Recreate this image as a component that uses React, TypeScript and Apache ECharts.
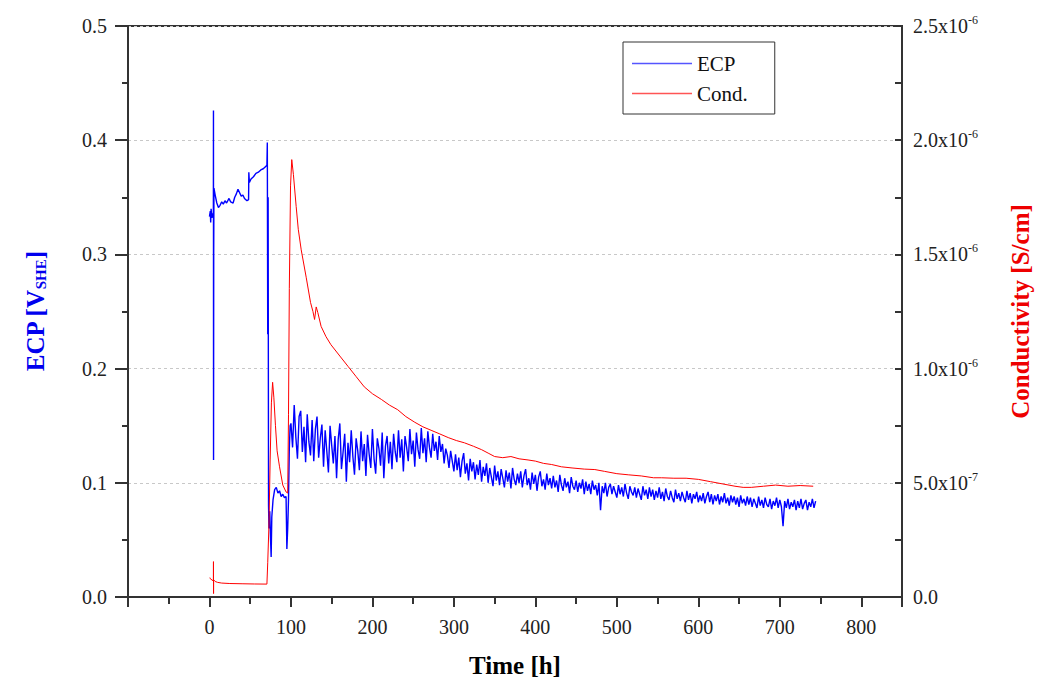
import React, { useEffect, useRef } from "react";
import * as echarts from "echarts";

const FONT = '"Liberation Serif", "Times New Roman", serif';

// ECP [V_SHE] vs time [h], irregular early part (t < 100 h)
const ecpEarly: [number, number][] = [
  [0, 0.333], [1, 0.338], [1.5, 0.328], [2, 0.34], [3, 0.332], [4, 0.336], [4.8, 0.334],
  [4.9, 0.426], [5.0, 0.12], [5.2, 0.3], [5.5, 0.358], [7, 0.352], [9, 0.345], [11, 0.341],
  [13, 0.343], [15, 0.346], [17, 0.344], [19, 0.347], [21, 0.345], [24, 0.349], [26, 0.346],
  [29, 0.345], [31, 0.35], [33, 0.353], [35, 0.357], [37, 0.354], [39, 0.351], [41, 0.352],
  [43, 0.349], [46, 0.347], [48, 0.348], [48.3, 0.372], [49, 0.363], [51, 0.366], [54, 0.368],
  [57, 0.371], [60, 0.372], [63, 0.374], [66, 0.375], [69, 0.377], [70.5, 0.378], [71, 0.398],
  [71.5, 0.23], [72, 0.35], [72.5, 0.08], [73, 0.06], [74, 0.075], [75, 0.05], [75.7, 0.035],
  [76.5, 0.07], [78, 0.085], [80, 0.094], [82, 0.096], [84, 0.091], [86, 0.093], [88, 0.088],
  [90, 0.09], [92, 0.087], [94, 0.088], [95, 0.042], [96, 0.06], [97, 0.085], [98, 0.13], [99, 0.15],
];

// ECP noisy part, sampled every 2 h from 100 h to 744 h
const ecpNoisyStart = 100;
const ecpNoisyStep = 2;
const ecpNoisy: number[] = [
  0.152, 0.131, 0.168, 0.140, 0.121, 0.158, 0.163, 0.127, 0.149, 0.118,
  0.160, 0.136, 0.124, 0.155, 0.119, 0.147, 0.158, 0.122, 0.139, 0.151, 0.114,
  0.146, 0.128, 0.109, 0.150, 0.133, 0.117, 0.141, 0.104, 0.138, 0.152,
  0.112, 0.127, 0.143, 0.101, 0.135, 0.118, 0.146, 0.123, 0.107, 0.139,
  0.128, 0.111, 0.145, 0.119, 0.134, 0.106, 0.142, 0.125, 0.113, 0.147,
  0.121, 0.108, 0.139, 0.130, 0.115, 0.144, 0.104, 0.132, 0.141, 0.117,
  0.136, 0.112, 0.143, 0.127, 0.118, 0.146, 0.122, 0.138, 0.110, 0.141,
  0.131, 0.119, 0.147, 0.125, 0.137, 0.114, 0.144, 0.129, 0.121, 0.148,
  0.126, 0.139, 0.118, 0.145, 0.131, 0.122, 0.143, 0.128, 0.136, 0.120,
  0.141, 0.127, 0.134, 0.117, 0.130, 0.124, 0.113, 0.128, 0.119, 0.110,
  0.125, 0.111, 0.122, 0.105, 0.119, 0.126, 0.108, 0.117, 0.102, 0.121,
  0.110, 0.118, 0.103, 0.116, 0.107, 0.120, 0.101, 0.114, 0.106, 0.117,
  0.100, 0.113, 0.105, 0.097, 0.115, 0.102, 0.110, 0.098, 0.112, 0.104,
  0.096, 0.111, 0.101, 0.109, 0.095, 0.113, 0.103, 0.098, 0.108, 0.100,
  0.110, 0.096, 0.106, 0.112, 0.098, 0.104, 0.094, 0.109, 0.099, 0.107,
  0.093, 0.105, 0.110, 0.097, 0.103, 0.094, 0.108, 0.098, 0.104, 0.095,
  0.106, 0.096, 0.102, 0.092, 0.107, 0.098, 0.093, 0.104, 0.096, 0.101,
  0.091, 0.105, 0.097, 0.094, 0.102, 0.092, 0.100, 0.095, 0.103, 0.090,
  0.101, 0.093, 0.099, 0.090, 0.102, 0.094, 0.098, 0.089, 0.100, 0.076,
  0.097, 0.091, 0.100, 0.088, 0.096, 0.099, 0.090, 0.097, 0.092, 0.087,
  0.098, 0.090, 0.096, 0.088, 0.099, 0.091, 0.086, 0.097, 0.092, 0.089,
  0.096, 0.087, 0.095, 0.090, 0.085, 0.097, 0.089, 0.094, 0.086, 0.096,
  0.088, 0.094, 0.085, 0.093, 0.087, 0.096, 0.086, 0.092, 0.084, 0.095,
  0.088, 0.085, 0.093, 0.087, 0.083, 0.094, 0.086, 0.091, 0.084, 0.092,
  0.087, 0.083, 0.093, 0.085, 0.091, 0.082, 0.090, 0.086, 0.092, 0.083,
  0.089, 0.084, 0.091, 0.082, 0.088, 0.092, 0.083, 0.090, 0.081, 0.089,
  0.084, 0.090, 0.081, 0.088, 0.083, 0.091, 0.082, 0.087, 0.080, 0.089,
  0.083, 0.088, 0.081, 0.087, 0.079, 0.089, 0.082, 0.086, 0.080, 0.088,
  0.081, 0.087, 0.079, 0.086, 0.082, 0.078, 0.088, 0.080, 0.085, 0.078,
  0.087, 0.081, 0.079, 0.086, 0.077, 0.084, 0.080, 0.087, 0.078, 0.085,
  0.079, 0.062, 0.084, 0.078, 0.086, 0.077, 0.083, 0.079, 0.085, 0.076,
  0.084, 0.078, 0.086, 0.077, 0.082, 0.085, 0.076, 0.083, 0.079, 0.086, 0.078, 0.084,
];

// Conductivity [S/cm] vs time [h]
const condData: [number, number][] = [
  [0.5, 8.5e-8], [1, 8.0e-8], [4.8, 7.0e-8], [4.9, 1.55e-7], [5.0, 1.5e-8], [5.1, 7.5e-8],
  [7, 6.8e-8], [10, 6.4e-8], [15, 6.1e-8], [25, 5.9e-8], [40, 5.8e-8], [55, 5.7e-8],
  [70.5, 5.65e-8], [71.5, 1.5e-7], [73, 3.15e-7], [74.5, 6.0e-7], [76, 8.5e-7], [77.5, 9.4e-7],
  [79, 8.75e-7], [81, 7.5e-7], [83, 6.4e-7], [86, 5.7e-7], [90, 4.9e-7], [94, 4.6e-7],
  [96, 4.55e-7], [97, 8.0e-7], [98, 1.35e-6], [99.5, 1.8e-6], [101, 1.915e-6], [103, 1.85e-6],
  [106.4, 1.71e-6], [109, 1.61e-6], [112.6, 1.52e-6], [118.7, 1.4e-6], [124, 1.29e-6],
  [127, 1.25e-6], [129, 1.215e-6], [131, 1.27e-6], [133, 1.245e-6], [137, 1.185e-6],
  [143, 1.14e-6], [149, 1.105e-6], [160, 1.055e-6], [170, 1.01e-6], [180, 9.65e-7],
  [190, 9.2e-7], [200, 8.9e-7], [211, 8.65e-7], [221, 8.4e-7], [231, 8.2e-7], [241, 7.9e-7],
  [252, 7.65e-7], [262, 7.45e-7], [272, 7.3e-7], [282, 7.15e-7], [293, 6.98e-7], [303, 6.85e-7],
  [313, 6.75e-7], [324, 6.6e-7], [334, 6.45e-7], [342, 6.3e-7], [350, 6.15e-7], [360, 6.1e-7],
  [370, 6.15e-7], [380, 6.05e-7], [391, 6.0e-7], [400, 5.95e-7], [410, 5.85e-7], [420, 5.8e-7],
  [432, 5.7e-7], [445, 5.65e-7], [460, 5.6e-7], [473, 5.58e-7], [485, 5.5e-7], [500, 5.4e-7],
  [514, 5.35e-7], [530, 5.3e-7], [545, 5.22e-7], [555, 5.22e-7], [570, 5.2e-7], [585, 5.2e-7],
  [600, 5.15e-7], [615, 5.05e-7], [630, 4.95e-7], [645, 4.85e-7], [655, 4.8e-7], [665, 4.8e-7],
  [680, 4.85e-7], [695, 4.9e-7], [710, 4.85e-7], [725, 4.88e-7], [741, 4.85e-7],
];

const legendNames = ["ECP", "Cond."];

export default function App() {
  const ref = useRef<HTMLDivElement>(null);
  useEffect(() => {
    if (!ref.current) return;
    const chart = echarts.init(ref.current, null, { renderer: "svg" });
    const ecpData = [
      ...ecpEarly,
      ...ecpNoisy.map((v, i) => [ecpNoisyStart + ecpNoisyStep * i, v]),
    ];
    const axisLine = { show: true, onZero: false, lineStyle: { color: "#333", width: 2 } };
    chart.setOption({
      animation: false,
      backgroundColor: "#fff",
      grid: {
        left: 128, top: 26, right: 142, bottom: 91,
        show: true, borderColor: "#333", borderWidth: 2, backgroundColor: "transparent",
      },
      legend: {
        left: 623, top: 42, orient: "vertical",
        data: legendNames,
        icon: "rect", itemWidth: 60, itemHeight: 1.5, itemGap: 9,
        borderColor: "#333", borderWidth: 1,
        padding: [11, 27, 10, 9],
        textStyle: { fontFamily: FONT, fontSize: 21, color: "#111" },
      },
      xAxis: {
        type: "value", min: -100, max: 850, interval: 100,
        name: "Time [h]", nameLocation: "middle", nameGap: 56,
        nameTextStyle: { fontFamily: FONT, fontSize: 25, fontWeight: "bold", color: "#000" },
        axisLine, axisTick: { show: true, length: 10, lineStyle: { color: "#333", width: 2 } },
        minorTick: { show: true, splitNumber: 2, length: 7, lineStyle: { color: "#333", width: 2 } },
        axisLabel: {
          showMinLabel: false, showMaxLabel: false, margin: 20,
          fontFamily: FONT, fontSize: 20, color: "#222",
        },
        splitLine: { show: false },
      },
      yAxis: [
        {
          type: "value", min: 0, max: 0.5, interval: 0.1, position: "left",
          name: "{a|ECP [V}{b|SHE}{a|]}", nameLocation: "middle", nameGap: 80, nameRotate: 90,
          nameTextStyle: {
            rich: {
              a: { fontFamily: FONT, fontSize: 25, fontWeight: "bold", color: "#0000ee" },
              b: { fontFamily: FONT, fontSize: 15, fontWeight: "bold", color: "#0000ee", padding: [10, 0, 0, 0] },
            },
          },
          axisLine, axisTick: { show: true, length: 13, lineStyle: { color: "#333", width: 2 } },
          minorTick: { show: true, splitNumber: 2, length: 6, lineStyle: { color: "#333", width: 2 } },
          axisLabel: {
            margin: 21, fontFamily: FONT, fontSize: 20, color: "#222",
            formatter: (v: number) => v.toFixed(1),
          },
          splitLine: { show: true, lineStyle: { color: "#c8c8c8", type: [3, 3], width: 1 } },
        },
        {
          type: "value", min: 0, max: 2.5e-6, interval: 5e-7, position: "right",
          name: "Conductivity [S/cm]", nameLocation: "middle", nameGap: 106, nameRotate: 90,
          nameTextStyle: { fontFamily: FONT, fontSize: 25, fontWeight: "bold", color: "#ee0000" },
          axisLine, axisTick: { show: true, inside: true, length: 7, lineStyle: { color: "#333", width: 2 } },
          minorTick: { show: true, splitNumber: 2, length: 7, lineStyle: { color: "#333", width: 2 } },
          axisLabel: {
            margin: 11, color: "#222",
            formatter: (v: number) => {
              if (Math.abs(v) < 1e-12) return "{m|0.0}";
              const e = Math.floor(Math.log10(v) + 1e-9);
              const m = (v / Math.pow(10, e)).toFixed(1);
              return `{m|${m}x10}{s|${e}}`;
            },
            rich: {
              m: { fontFamily: FONT, fontSize: 20, color: "#222" },
              s: { fontFamily: FONT, fontSize: 12, color: "#222", padding: [0, 0, 12, 0] },
            },
          },
          splitLine: { show: false },
        },
      ],
      series: [
        {
          name: "ECP", type: "line", yAxisIndex: 0, data: ecpData,
          showSymbol: false, symbol: "none",
          lineStyle: { color: "#0000ff", width: 1.4 }, itemStyle: { color: "#5555ff" },
        },
        {
          name: "Cond.", type: "line", yAxisIndex: 1, data: condData,
          showSymbol: false, symbol: "none",
          lineStyle: { color: "#ff0000", width: 1 }, itemStyle: { color: "#ff5555" },
        },
      ],
    });
    return () => chart.dispose();
  }, []);
  return (
    <div
      ref={ref}
      style={{ position: "fixed", left: 0, top: 0, width: 1044, height: 688, background: "#fff" }}
    />
  );
}
